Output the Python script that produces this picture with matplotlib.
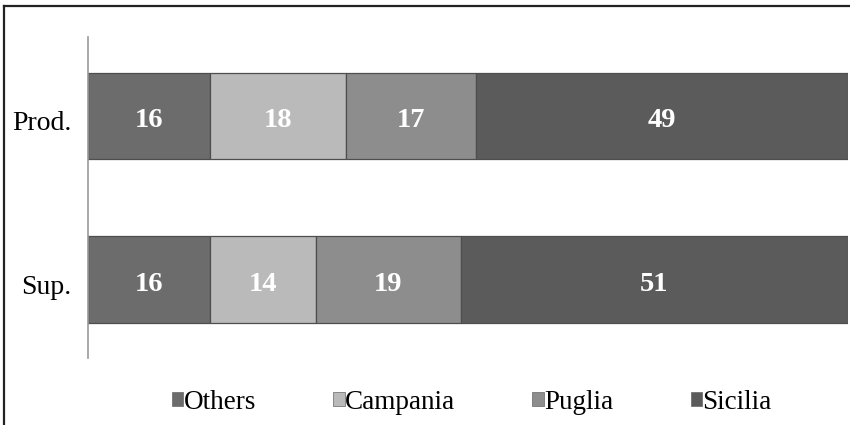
import numpy as np
import matplotlib.pyplot as plt
import matplotlib.transforms as mtransforms
from matplotlib.lines import Line2D
from matplotlib.patches import Patch

plt.rcParams['font.family'] = ['Liberation Serif', 'DejaVu Serif']

# shares (%) by region, for production and surface
groups = ["Sup.", "Prod."]
regions = ["Others", "Campania", "Puglia", "Sicilia"]
shares = {
    "Others": [16, 16],
    "Campania": [14, 18],
    "Puglia": [19, 17],
    "Sicilia": [51, 49],
}
colors = {
    "Others": "#6c6c6c",
    "Campania": "#bababa",
    "Puglia": "#8d8d8d",
    "Sicilia": "#5b5b5b",
}

fig = plt.figure(figsize=(8.5, 4.25), dpi=100)
ax = fig.add_axes([0.1035, 0.158, 0.8945, 0.755])

# text sits a little below the bar centre
down = mtransforms.ScaledTranslation(0, -5 / 100, fig.dpi_scale_trans)

y = np.arange(len(groups))
left = np.zeros(len(groups))
for r in regions:
    vals = np.array(shares[r], dtype=float)
    ax.barh(y, vals, left=left, height=0.53, color=colors[r],
            edgecolor="#4e4e4e", linewidth=0.9, zorder=2)
    for yi, v, l in zip(y, vals, left):
        ax.text(l + v / 2, yi, f"{int(v)}", ha="center", va="center",
                color="white", fontsize=20.5, fontweight="bold", zorder=4,
                transform=ax.transData + down)
    left += vals

ax.set_xlim(0, 100)
ax.set_ylim(-0.476, 1.482)
ax.set_yticks(y)
ax.set_yticklabels(groups, fontsize=20)
ax.tick_params(axis="y", length=0, pad=12)
for lbl in ax.get_yticklabels():
    lbl.set_transform(lbl.get_transform() + down)
ax.set_xticks([])
for s in ["top", "right", "bottom"]:
    ax.spines[s].set_visible(False)
ax.spines["left"].set_color("#9a9a9a")
ax.spines["left"].set_linewidth(1.2)

handles = [Patch(facecolor=colors[r], edgecolor="#666666", linewidth=0.5) for r in regions]
fig.legend(handles, regions, loc="center", bbox_to_anchor=(0.555, 0.054), ncol=4,
           frameon=False, fontsize=19.5, handlelength=0.42, handleheight=0.42,
           handletextpad=0.02, columnspacing=2.85)

# frame lines around the panel
fig.add_artist(Line2D([0.005, 1.0], [0.985, 0.985], color="#222222", linewidth=1.6))
fig.add_artist(Line2D([0.005, 0.005], [0.0, 0.985], color="#222222", linewidth=1.6))

fig.savefig("out.png", dpi=100, facecolor="white")
